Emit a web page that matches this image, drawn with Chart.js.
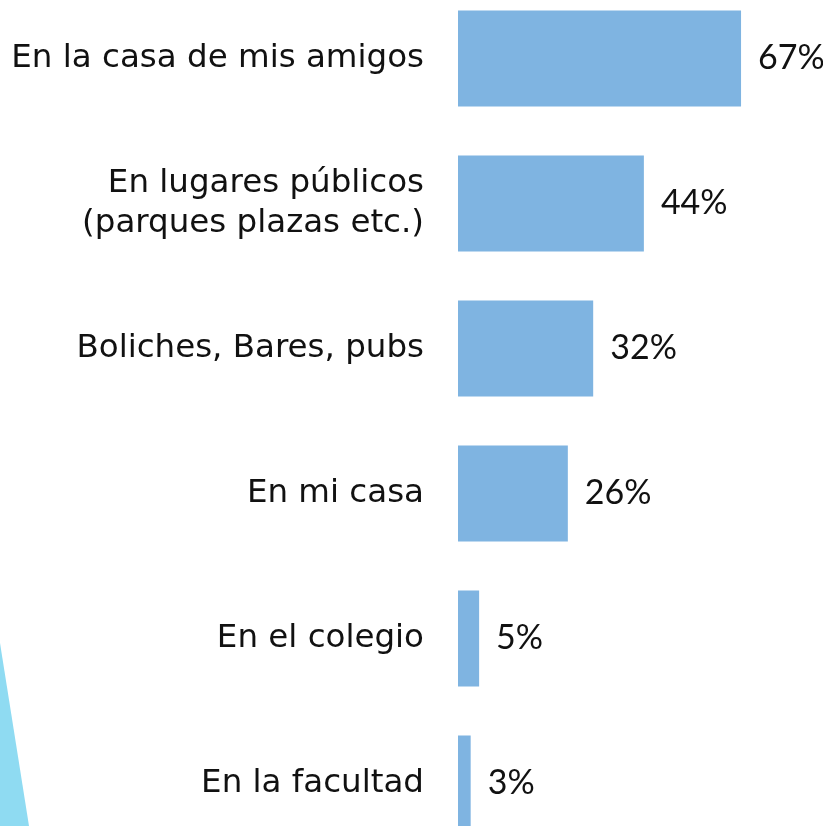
<!DOCTYPE html>
<html>
<head>
<meta charset="utf-8">
<script src="https://cdn.jsdelivr.net/npm/chart.js@4"></script>
<style>
  html, body { margin: 0; padding: 0; background: #ffffff; overflow: hidden; }
  body { width: 823px; height: 826px; position: relative; }
  #wrap { position: absolute; left: 0; top: -14.5px; width: 823px; height: 870px; }
  #deco { position: absolute; left: 0; top: 0; width: 823px; height: 826px;
          background: #8FDBF2; clip-path: polygon(0px 643px, 29px 826px, 0px 826px); }
</style>
</head>
<body>
<div id="deco"></div>
<div id="wrap"><canvas id="c" width="823" height="870"></canvas></div>
<script>
const categories = [
  "En la casa de mis amigos",
  ["En lugares públicos", "(parques plazas etc.)"],
  "Boliches, Bares, pubs",
  "En mi casa",
  "En el colegio",
  "En la facultad"
];
const values = [67, 44, 32, 26, 5, 3];
const valueLabels = ["67%", "44%", "32%", "26%", "5%", "3%"];

const valueLabelPlugin = {
  id: 'valueLabels',
  afterDatasetsDraw(chart) {
    const ctx = chart.ctx;
    const meta = chart.getDatasetMeta(0);
    ctx.save();
    ctx.font = '34px Lato, "Open Sans", sans-serif';
    ctx.fillStyle = '#111111';
    ctx.textAlign = 'left';
    ctx.textBaseline = 'middle';
    meta.data.forEach((bar, i) => {
      ctx.fillText(valueLabels[i], bar.x + 17, bar.y);
    });
    ctx.restore();
  }
};

new Chart(document.getElementById('c'), {
  type: 'bar',
  data: {
    labels: categories,
    datasets: [{
      data: values,
      backgroundColor: '#7FB4E1',
      borderWidth: 0,
      categoryPercentage: 1,
      barPercentage: 0.662
    }]
  },
  options: {
    indexAxis: 'y',
    responsive: false,
    maintainAspectRatio: false,
    animation: false,
    layout: { padding: 0 },
    plugins: { legend: { display: false }, tooltip: { enabled: false } },
    scales: {
      x: { display: false, min: 0, max: 86.4 },
      y: {
        grid: { display: false },
        border: { display: false },
        ticks: {
          color: '#111111',
          padding: 26,
          font: { family: '"DejaVu Sans", Verdana, sans-serif', size: 32.5, lineHeight: 1.23 }
        },
        afterFit(scale) {
          scale.width = 458;
          scale.paddingTop = 0;
          scale.paddingBottom = 0;
        }
      }
    }
  },
  plugins: [valueLabelPlugin]
});
</script>
</body>
</html>
